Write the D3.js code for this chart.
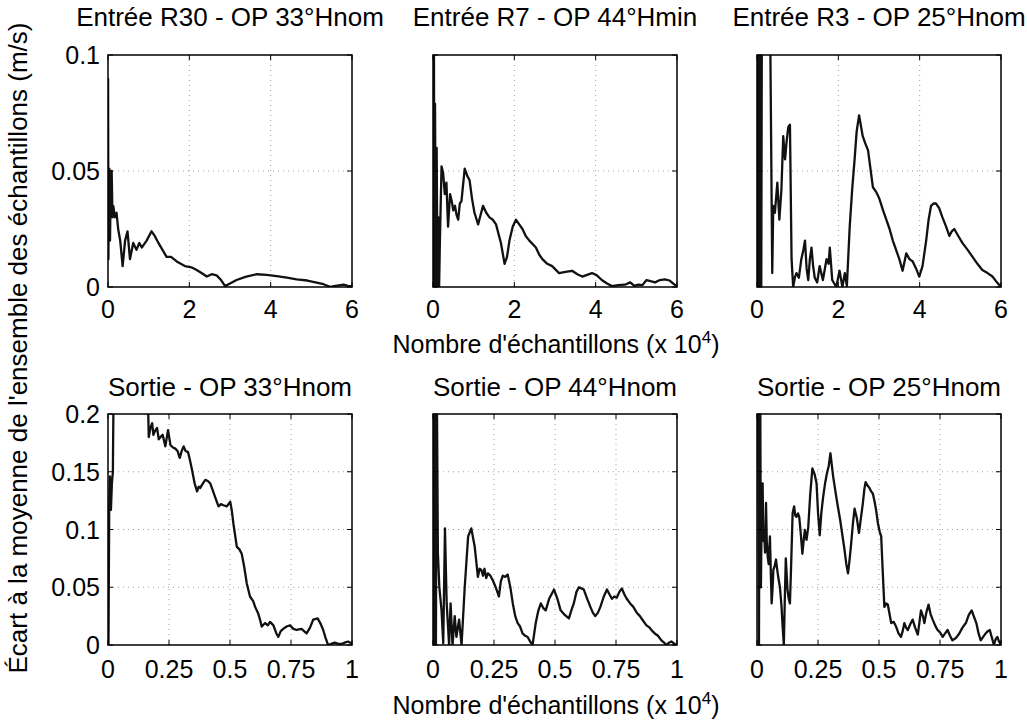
<!DOCTYPE html>
<html>
<head>
<meta charset="utf-8">
<script src="https://cdn.jsdelivr.net/npm/d3@7"></script>
<style>
  body { margin: 0; background: #fff; }
  svg { font-family: "Liberation Sans", Arial, sans-serif; }
</style>
</head>
<body>
<div id="chart"></div>
<script>
// titles, tick values and series (x in units of 10^4 samples)
var titles = ["Entrée R30 - OP 33°Hnom", "Entrée R7 - OP 44°Hmin", "Entrée R3 - OP 25°Hnom",
              "Sortie - OP 33°Hnom", "Sortie - OP 44°Hnom", "Sortie - OP 25°Hnom"];
var topXTicks = [0, 2, 4, 6];
var topYTicks = [0, 0.05, 0.1];
var bottomXTicks = [0, 0.25, 0.5, 0.75, 1];
var bottomYTicks = [0, 0.05, 0.1, 0.15, 0.2];

var entreeR30 = [[0.002,0.09],[0.01,0.012],[0.02,0.045],[0.033,0.051],[0.05,0.02],[0.07,0.048],[0.09,0.05],[0.11,0.03],[0.13,0.035],[0.17,0.03],[0.21,0.032],[0.25,0.025],[0.30,0.020],[0.36,0.009],[0.42,0.020],[0.48,0.024],[0.54,0.012],[0.62,0.019],[0.70,0.016],[0.77,0.019],[0.83,0.017],[0.95,0.020],[1.07,0.024],[1.15,0.022],[1.24,0.019],[1.34,0.016],[1.44,0.013],[1.55,0.013],[1.69,0.011],[1.89,0.009],[2.05,0.0085],[2.18,0.0073],[2.30,0.006],[2.43,0.0045],[2.55,0.0055],[2.67,0.005],[2.78,0.003],[2.88,0.0004],[3.0,0.0015],[3.16,0.003],[3.4,0.0045],[3.66,0.0055],[3.9,0.0052],[4.15,0.0047],[4.4,0.004],[4.64,0.0033],[4.9,0.0028],[5.13,0.0019],[5.3,0.0012],[5.46,0.0001],[5.6,0.0005],[5.79,0.001],[5.9,0.0005],[6.0,0.0004]];

var entreeR7 = [[0.005,0.12],[0.012,0],[0.024,0.1],[0.035,0],[0.05,0.079],[0.07,0],[0.09,0.06],[0.11,0],[0.13,0.03],[0.15,0],[0.17,0.02],[0.21,0.052],[0.25,0.049],[0.29,0.04],[0.33,0.045],[0.37,0.026],[0.42,0.04],[0.46,0.037],[0.50,0.033],[0.54,0.035],[0.58,0.031],[0.62,0.029],[0.66,0.036],[0.70,0.037],[0.78,0.051],[0.84,0.048],[0.90,0.046],[0.96,0.038],[1.02,0.032],[1.11,0.027],[1.17,0.031],[1.23,0.035],[1.31,0.032],[1.39,0.030],[1.47,0.029],[1.55,0.027],[1.67,0.019],[1.76,0.010],[1.82,0.013],[1.88,0.020],[1.96,0.026],[2.04,0.029],[2.12,0.027],[2.20,0.025],[2.28,0.022],[2.37,0.020],[2.53,0.017],[2.61,0.014],[2.69,0.012],[2.81,0.010],[2.93,0.009],[3.10,0.006],[3.26,0.0065],[3.42,0.007],[3.55,0.0055],[3.67,0.0045],[3.91,0.006],[4.03,0.005],[4.15,0.003],[4.28,0.0015],[4.40,0.0004],[4.55,0.0008],[4.72,0.001],[4.85,0.002],[4.95,0.0005],[5.05,0.001],[5.15,0.0008],[5.25,0.003],[5.35,0.0025],[5.46,0.002],[5.58,0.003],[5.70,0.0033],[5.82,0.0028],[5.94,0.001],[6,0.0005]];

var entreeR3 = [[0.005,0.15],[0.015,0],[0.03,0.15],[0.045,0],[0.06,0.15],[0.075,0],[0.09,0.15],[0.105,0],[0.12,0.12],[0.2,0.13],[0.32,0.12],[0.375,0.006],[0.40,0.035],[0.44,0.032],[0.50,0.045],[0.55,0.029],[0.60,0.042],[0.645,0.065],[0.69,0.055],[0.73,0.063],[0.77,0.069],[0.81,0.070],[0.85,0.012],[0.89,0],[0.93,0.004],[0.97,0.006],[1.03,0.004],[1.09,0.012],[1.14,0.016],[1.18,0.020],[1.22,0.008],[1.26,0.003],[1.30,0.012],[1.34,0.017],[1.38,0.009],[1.42,0.004],[1.48,0.002],[1.54,0.009],[1.58,0.006],[1.62,0.003],[1.67,0.008],[1.71,0.012],[1.76,0.010],[1.79,0.017],[1.85,0.003],[1.95,0],[2.03,0.007],[2.10,0],[2.16,0.006],[2.21,0.0005],[2.28,0.026],[2.34,0.042],[2.40,0.055],[2.45,0.067],[2.51,0.074],[2.56,0.069],[2.60,0.065],[2.66,0.062],[2.73,0.059],[2.79,0.051],[2.85,0.043],[2.93,0.041],[3.01,0.038],[3.10,0.033],[3.18,0.029],[3.26,0.025],[3.34,0.020],[3.42,0.016],[3.50,0.012],[3.58,0.007],[3.67,0.0145],[3.75,0.012],[3.83,0.011],[3.91,0.008],[3.99,0.0045],[4.07,0.009],[4.16,0.020],[4.22,0.029],[4.28,0.035],[4.34,0.036],[4.40,0.036],[4.48,0.034],[4.56,0.030],[4.65,0.026],[4.73,0.022],[4.79,0.024],[4.85,0.025],[4.95,0.022],[5.05,0.019],[5.18,0.016],[5.30,0.013],[5.42,0.010],[5.54,0.0073],[5.67,0.006],[5.79,0.0045],[5.90,0.002],[6,0]];

var sortie33 = [[0.002,0],[0.005,0.12],[0.008,0.146],[0.012,0.117],[0.016,0.14],[0.02,0.15],[0.024,0.25],[0.1,0.24],[0.16,0.21],[0.165,0.2],[0.167,0.180],[0.174,0.188],[0.181,0.192],[0.186,0.182],[0.192,0.185],[0.201,0.188],[0.208,0.178],[0.215,0.180],[0.224,0.182],[0.235,0.172],[0.246,0.186],[0.256,0.173],[0.266,0.171],[0.276,0.170],[0.285,0.168],[0.294,0.162],[0.302,0.168],[0.310,0.172],[0.318,0.168],[0.328,0.167],[0.336,0.160],[0.344,0.152],[0.355,0.140],[0.365,0.133],[0.372,0.137],[0.378,0.136],[0.389,0.140],[0.399,0.143],[0.409,0.142],[0.419,0.140],[0.429,0.134],[0.439,0.128],[0.453,0.120],[0.463,0.122],[0.473,0.121],[0.487,0.120],[0.501,0.124],[0.507,0.117],[0.514,0.105],[0.521,0.095],[0.528,0.085],[0.538,0.083],[0.548,0.079],[0.558,0.068],[0.569,0.053],[0.582,0.042],[0.595,0.038],[0.603,0.033],[0.616,0.027],[0.623,0.022],[0.630,0.016],[0.644,0.019],[0.655,0.017],[0.664,0.020],[0.678,0.017],[0.690,0.010],[0.698,0.007],[0.708,0.012],[0.718,0.014],[0.732,0.016],[0.746,0.017],[0.760,0.014],[0.773,0.013],[0.793,0.014],[0.814,0.010],[0.828,0.015],[0.841,0.022],[0.859,0.023],[0.870,0.019],[0.882,0.013],[0.892,0.006],[0.902,0],[0.915,0.001],[0.929,0.002],[0.945,0.001],[0.956,0.0009],[0.970,0.002],[0.984,0.003],[1,0.001]];

var sortie44 = [[0.001,0.3],[0.004,0],[0.008,0.3],[0.012,0],[0.015,0.25],[0.02,0.08],[0.026,0.050],[0.035,0.030],[0.042,0.0014],[0.049,0.101],[0.056,0.036],[0.066,0],[0.072,0.036],[0.080,0],[0.089,0.025],[0.096,0.007],[0.107,0.022],[0.117,0],[0.130,0.05],[0.144,0.094],[0.157,0.101],[0.171,0.085],[0.184,0.059],[0.191,0.066],[0.198,0.065],[0.205,0.060],[0.211,0.066],[0.218,0.058],[0.225,0.062],[0.235,0.060],[0.245,0.056],[0.257,0.050],[0.270,0.042],[0.278,0.055],[0.286,0.060],[0.296,0.059],[0.306,0.061],[0.317,0.050],[0.327,0.036],[0.337,0.025],[0.347,0.019],[0.357,0.016],[0.367,0.010],[0.378,0.008],[0.388,0.007],[0.398,0.003],[0.408,0],[0.421,0.019],[0.432,0.030],[0.442,0.036],[0.452,0.032],[0.462,0.030],[0.476,0.040],[0.496,0.048],[0.510,0.040],[0.523,0.030],[0.540,0.026],[0.557,0.023],[0.567,0.030],[0.577,0.036],[0.588,0.046],[0.598,0.050],[0.608,0.049],[0.618,0.048],[0.632,0.040],[0.645,0.033],[0.655,0.028],[0.665,0.025],[0.676,0.028],[0.686,0.033],[0.700,0.042],[0.713,0.048],[0.723,0.044],[0.733,0.040],[0.743,0.042],[0.753,0.041],[0.764,0.046],[0.774,0.049],[0.784,0.044],[0.794,0.040],[0.808,0.036],[0.821,0.033],[0.835,0.028],[0.848,0.025],[0.861,0.021],[0.875,0.017],[0.888,0.015],[0.899,0.012],[0.909,0.010],[0.922,0.008],[0.936,0.004],[0.947,0.002],[0.957,0],[0.967,0.002],[0.977,0.003],[0.990,0.001],[1,0]];

var sortie25 = [[0.003,0.3],[0.008,0],[0.012,0.3],[0.016,0.05],[0.020,0.13],[0.023,0.140],[0.026,0.09],[0.029,0.0996],[0.033,0.08],[0.037,0.123],[0.040,0.09],[0.044,0.076],[0.048,0.07],[0.053,0.094],[0.057,0.06],[0.060,0.036],[0.064,0.05],[0.067,0.065],[0.072,0.068],[0.078,0.074],[0.083,0.065],[0.087,0.059],[0.094,0.050],[0.100,0.035],[0.105,0.016],[0.110,0],[0.114,0.04],[0.118,0.075],[0.125,0.048],[0.130,0.040],[0.135,0.036],[0.140,0.07],[0.146,0.114],[0.152,0.120],[0.157,0.112],[0.162,0.111],[0.168,0.114],[0.173,0.111],[0.180,0.095],[0.186,0.079],[0.191,0.090],[0.196,0.0996],[0.203,0.091],[0.210,0.102],[0.218,0.13],[0.227,0.153],[0.236,0.148],[0.244,0.140],[0.250,0.115],[0.257,0.095],[0.264,0.115],[0.271,0.128],[0.279,0.140],[0.287,0.149],[0.294,0.155],[0.301,0.166],[0.307,0.155],[0.312,0.146],[0.320,0.135],[0.325,0.128],[0.333,0.118],[0.341,0.108],[0.350,0.095],[0.359,0.082],[0.366,0.070],[0.373,0.062],[0.380,0.075],[0.386,0.088],[0.393,0.105],[0.400,0.118],[0.409,0.110],[0.418,0.097],[0.426,0.110],[0.434,0.123],[0.440,0.135],[0.445,0.141],[0.453,0.138],[0.461,0.136],[0.468,0.133],[0.475,0.131],[0.482,0.124],[0.488,0.117],[0.496,0.105],[0.503,0.098],[0.509,0.094],[0.515,0.065],[0.522,0.033],[0.529,0.036],[0.536,0.035],[0.543,0.027],[0.550,0.019],[0.560,0.020],[0.570,0.016],[0.580,0.010],[0.590,0.007],[0.597,0.012],[0.604,0.019],[0.611,0.015],[0.618,0.013],[0.628,0.018],[0.638,0.022],[0.648,0.015],[0.659,0.009],[0.666,0.020],[0.672,0.030],[0.680,0.025],[0.686,0.019],[0.694,0.028],[0.703,0.035],[0.711,0.027],[0.720,0.022],[0.730,0.017],[0.740,0.013],[0.750,0.011],[0.761,0.007],[0.771,0.010],[0.781,0.013],[0.791,0.008],[0.801,0.004],[0.815,0.006],[0.829,0.010],[0.842,0.015],[0.856,0.019],[0.868,0.026],[0.880,0.030],[0.890,0.024],[0.899,0.019],[0.908,0.010],[0.917,0.004],[0.927,0.007],[0.937,0.010],[0.946,0.012],[0.954,0.013],[0.963,0.006],[0.971,0],[0.978,0.005],[0.985,0.007],[0.992,0.003],[1,0]];

var series = [entreeR30, entreeR7, entreeR3, sortie33, sortie44, sortie25];

var W = 1027, H = 723;
var colLeft = [108, 433, 757];
var panelW = 244;
var rowTop = [55, 414];
var rowH = [232, 231];

var svg = d3.select("#chart").append("svg")
    .attr("width", W)
    .attr("height", H);

function drawPanel(i) {
    var row = i < 3 ? 0 : 1;
    var col = i % 3;
    var xTicks = row == 0 ? topXTicks : bottomXTicks;
    var yTicks = row == 0 ? topYTicks : bottomYTicks;
    var h = rowH[row];

    var x = d3.scaleLinear().domain(d3.extent(xTicks)).range([0, panelW]);
    var y = d3.scaleLinear().domain(d3.extent(yTicks)).range([h, 0]);

    var g = svg.append("g")
        .attr("transform", "translate(" + colLeft[col] + "," + rowTop[row] + ")");

    // dotted grid
    g.selectAll("line.gx").data(xTicks.slice(1, -1)).enter().append("line")
        .attr("x1", d => x(d)).attr("x2", d => x(d))
        .attr("y1", 0).attr("y2", h)
        .attr("stroke", "#a0a0a0").attr("stroke-width", 1)
        .attr("stroke-dasharray", "1,4");
    g.selectAll("line.gy").data(yTicks.slice(1, -1)).enter().append("line")
        .attr("x1", 0).attr("x2", panelW)
        .attr("y1", d => y(d)).attr("y2", d => y(d))
        .attr("stroke", "#a0a0a0").attr("stroke-width", 1)
        .attr("stroke-dasharray", "1,4");

    g.append("clipPath").attr("id", "clip" + i)
        .append("rect").attr("width", panelW).attr("height", h);

    var line = d3.line().x(d => x(d[0])).y(d => y(d[1]));
    g.append("path")
        .datum(series[i])
        .attr("clip-path", "url(#clip" + i + ")")
        .attr("fill", "none")
        .attr("stroke", "#111")
        .attr("stroke-width", 2.3)
        .attr("stroke-linejoin", "round")
        .attr("d", line);

    // inward ticks on all four sides, matlab style
    var tl = 5;
    xTicks.forEach(function(t) {
        g.append("line").attr("x1", x(t)).attr("x2", x(t)).attr("y1", h).attr("y2", h - tl).attr("stroke", "#000");
        g.append("line").attr("x1", x(t)).attr("x2", x(t)).attr("y1", 0).attr("y2", tl).attr("stroke", "#000");
    });
    yTicks.forEach(function(t) {
        g.append("line").attr("x1", 0).attr("x2", tl).attr("y1", y(t)).attr("y2", y(t)).attr("stroke", "#000");
        g.append("line").attr("x1", panelW).attr("x2", panelW - tl).attr("y1", y(t)).attr("y2", y(t)).attr("stroke", "#000");
    });

    g.append("rect")
        .attr("width", panelW).attr("height", h)
        .attr("fill", "none").attr("stroke", "#000").attr("stroke-width", 1.5);

    g.selectAll("text.xt").data(xTicks).enter().append("text")
        .attr("x", d => x(d))
        .attr("y", h + (row == 0 ? 31 : 33))
        .attr("text-anchor", "middle")
        .attr("font-size", 25)
        .text(d => d);

    if (col == 0) {
        g.selectAll("text.yt").data(yTicks).enter().append("text")
            .attr("x", -8)
            .attr("y", d => y(d))
            .attr("dy", "0.36em")
            .attr("text-anchor", "end")
            .attr("font-size", 25)
            .text(d => d);
    }

    g.append("text")
        .attr("x", panelW / 2)
        .attr("y", row == 0 ? -29 : -18)
        .attr("text-anchor", "middle")
        .attr("font-size", 26)
        .text(titles[i]);
}

for (var i = 0; i < 6; i++) drawPanel(i);

function xLabel(yBase) {
    var t = svg.append("text")
        .attr("x", 556).attr("y", yBase)
        .attr("text-anchor", "middle")
        .attr("font-size", 25);
    t.append("tspan").text("Nombre d'échantillons (x 10");
    t.append("tspan").attr("dy", -10).attr("font-size", 17).text("4");
    t.append("tspan").attr("dy", 10).text(")");
}
xLabel(353);
xLabel(714);

svg.append("text")
    .attr("transform", "translate(27,348) rotate(-90)")
    .attr("text-anchor", "middle")
    .attr("font-size", 26)
    .text("Écart à la moyenne de l'ensemble des échantillons (m/s)");
</script>
</body>
</html>
